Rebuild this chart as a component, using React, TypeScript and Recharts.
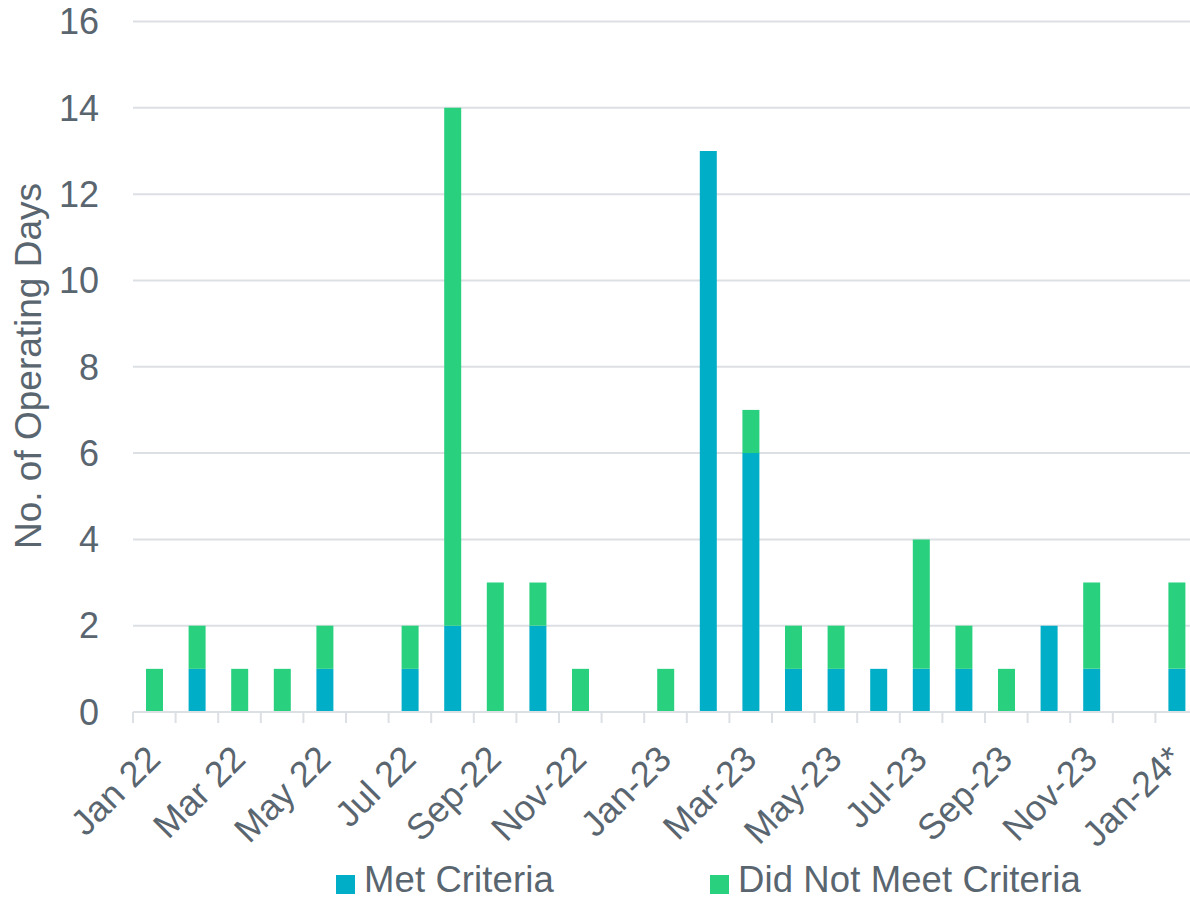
import { BarChart, Bar, XAxis, YAxis, CartesianGrid, Legend } from 'recharts';

const months = [
  'Jan 22', 'Feb 22', 'Mar 22', 'Apr 22', 'May 22', 'Jun 22', 'Jul 22', 'Aug 22',
  'Sep-22', 'Oct-22', 'Nov-22', 'Dec-22', 'Jan-23', 'Feb-23', 'Mar-23', 'Apr-23',
  'May-23', 'Jun-23', 'Jul-23', 'Aug-23', 'Sep-23', 'Oct-23', 'Nov-23', 'Dec-23', 'Jan-24*',
];
const metCriteria = [0, 1, 0, 0, 1, 0, 1, 2, 0, 2, 0, 0, 0, 13, 6, 1, 1, 1, 1, 1, 0, 2, 1, 0, 1];
const didNotMeet = [1, 1, 1, 1, 1, 0, 1, 12, 3, 1, 1, 0, 1, 0, 1, 1, 1, 0, 3, 1, 1, 0, 2, 0, 2];
const yTicks = [0, 2, 4, 6, 8, 10, 12, 14, 16];

const data = months.map((month, i) => ({
  month,
  met: metCriteria[i],
  notMet: didNotMeet[i],
}));

const FONT = '"Liberation Sans", Arial, sans-serif';
const TEXT = '#59656F';
const GRID = '#DCDFE3';
const TEAL = '#00AEC7';
const GREEN = '#29D07E';

// every month gets a boundary tick; only every other month gets a label
function MonthTick(props: any) {
  const { x, y, payload } = props;
  const half = payload.offset ?? 21.3;
  const left = x - half;
  return (
    <g>
      <line x1={left} x2={left} y1={y} y2={y + 11} stroke={GRID} strokeWidth={2} />
      {payload.index % 2 === 0 && (
        <text
          x={x + 8}
          y={y + 49}
          textAnchor="end"
          transform={`rotate(-45 ${x + 8} ${y + 49})`}
          fill={TEXT}
          fontSize={36}
          fontFamily={FONT}
        >
          {payload.value}
        </text>
      )}
    </g>
  );
}

function LegendRow() {
  const items = [
    { label: 'Met Criteria', color: TEAL, left: 336 },
    { label: 'Did Not Meet Criteria', color: GREEN, left: 710 },
  ];
  return (
    <div style={{ position: 'relative', width: 1190, height: 901, fontFamily: FONT }}>
      {items.map((it) => (
        <div key={it.label}>
          <span
            style={{ position: 'absolute', left: it.left, top: 875, width: 19, height: 19, background: it.color }}
          />
          <span
            style={{
              position: 'absolute',
              left: it.left + 28,
              top: 864.3,
              fontSize: 36.5,
              letterSpacing: 0.1,
              lineHeight: 0.9,
              color: TEXT,
              whiteSpace: 'nowrap',
            }}
          >
            {it.label}
          </span>
        </div>
      ))}
    </div>
  );
}

export default function App() {
  return (
    <div style={{ position: 'absolute', left: 0, top: 0, width: 1190, height: 901, overflow: 'hidden', background: '#fff' }}>
      <BarChart
        width={1200}
        height={901}
        data={data}
        barSize={17}
        margin={{ top: 21.5, right: 2, left: 0, bottom: 39 }}
      >
        <CartesianGrid vertical={false} stroke={GRID} strokeWidth={2} />
        <XAxis
          dataKey="month"
          interval={0}
          height={150}
          tickSize={0}
          tickMargin={0}
          tickLine={false}
          axisLine={{ stroke: GRID, strokeWidth: 2 }}
          tick={<MonthTick />}
        />
        <YAxis
          width={133}
          domain={[0, 16]}
          ticks={yTicks}
          tickSize={0}
          tickMargin={34}
          axisLine={false}
          tickLine={false}
          tick={{ fill: TEXT, fontSize: 36, fontFamily: FONT }}
          label={{
            content: () => (
              <text
                x={41}
                y={366}
                textAnchor="middle"
                transform="rotate(-90 41 366)"
                fill={TEXT}
                fontSize={37}
                fontFamily={FONT}
              >
                No. of Operating Days
              </text>
            ),
          }}
        />
        <Legend
          layout="horizontal"
          verticalAlign="middle"
          align="center"
          wrapperStyle={{ top: 0, left: 0, width: 1190, height: 901, pointerEvents: 'none' }}
          content={() => <LegendRow />}
        />
        <Bar dataKey="met" name="Met Criteria" stackId="days" fill={TEAL} isAnimationActive={false} />
        <Bar dataKey="notMet" name="Did Not Meet Criteria" stackId="days" fill={GREEN} isAnimationActive={false} />
      </BarChart>
    </div>
  );
}
